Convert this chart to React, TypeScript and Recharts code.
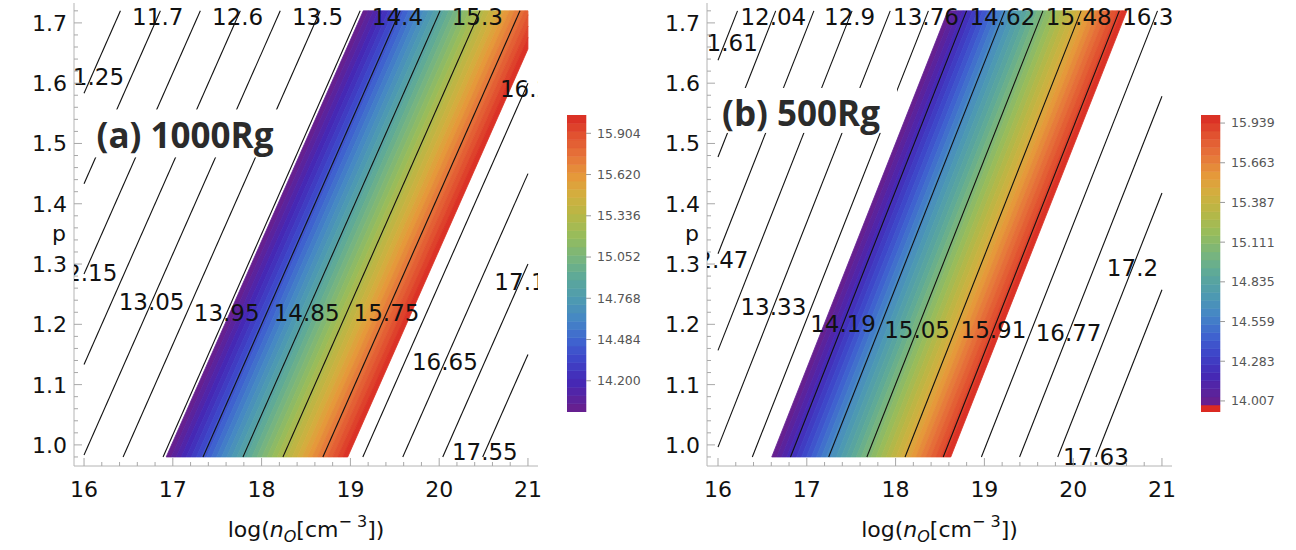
import React from 'react';
import { ComposedChart, Scatter, XAxis, YAxis, BarChart, Bar } from 'recharts';

const FONT = '"DejaVu Sans", sans-serif';
const TITLE_FONT = '"Open Sans", "DejaVu Sans", sans-serif';
const FRAME = '#b4b4b4';
const TICK = '#a8a8a8';

// ---- data extent of both contour plots ----
const xRange = [16, 21];
const pRange = [0.98, 1.72];

// ---- axis ticks ----
const xTicksMajor = [16, 17, 18, 19, 20, 21];
const yTicksMajor = [1.0, 1.1, 1.2, 1.3, 1.4, 1.5, 1.6, 1.7];

// ---- panel (a) 1000Rg ----
const slopeA = 3.0;
const levelsA = [11.25, 11.7, 12.15, 12.6, 13.05, 13.5, 13.95, 14.4, 14.85, 15.3, 15.75, 16.2, 16.65, 17.1, 17.55];
const labelLevelsA = [11.25, 11.7, 12.6, 13.5, 14.4, 15.3, 16.2, 12.15, 13.05, 13.95, 14.85, 15.75, 16.65, 17.1, 17.55];
const labelPA = [1.61, 1.71, 1.71, 1.71, 1.71, 1.71, 1.591, 1.285, 1.237, 1.219, 1.219, 1.219, 1.138, 1.27, 0.988];
const colorTicksA = [14.2, 14.484, 14.768, 15.052, 15.336, 15.62, 15.904];
const colorRangeA = [13.985, 16.03];
const bandCountA = 36;

// ---- panel (b) 500Rg ----
const slopeB = 2.68;
const levelsB = [11.61, 12.04, 12.47, 12.9, 13.33, 13.76, 14.19, 14.62, 15.05, 15.48, 15.91, 16.34, 16.77, 17.2, 17.63];
const labelLevelsB = [11.61, 12.04, 12.9, 13.76, 14.62, 15.48, 16.34, 12.47, 13.33, 14.19, 15.05, 15.91, 16.77, 17.2, 17.63];
const labelPB = [1.667, 1.71, 1.71, 1.71, 1.71, 1.71, 1.71, 1.307, 1.229, 1.201, 1.191, 1.191, 1.186, 1.294, 0.98];
const colorTicksB = [14.007, 14.283, 14.559, 14.835, 15.111, 15.387, 15.663, 15.939];
const colorRangeB = [13.979, 15.995];
const colorUnderB = 13.93;
const bandCountB = 36;

// rainbow palette (position, colour) sampled from the legend
const rainbowPos = [0, 0.1, 0.175, 0.24, 0.31, 0.38, 0.45, 0.52, 0.59, 0.66, 0.73, 0.79, 0.865, 0.94, 1];
const rainbowCol = ['#6B1F8A', '#4528B5', '#3E44C8', '#3F64CF', '#4586C6', '#4E9AB0', '#5CA89A', '#78B57D', '#96BC5C', '#B5B847', '#D2AF3E', '#E59A3A', '#E6733A', '#E04D2E', '#DA2A24'];

const hex2rgb = (h: string) => [parseInt(h.slice(1, 3), 16), parseInt(h.slice(3, 5), 16), parseInt(h.slice(5, 7), 16)];
function rainbow(t: number): string {
  const tt = Math.max(0, Math.min(1, t));
  let i = 0;
  while (i < rainbowPos.length - 2 && tt > rainbowPos[i + 1]) i++;
  const f = (tt - rainbowPos[i]) / (rainbowPos[i + 1] - rainbowPos[i]);
  const a = hex2rgb(rainbowCol[i]);
  const b = hex2rgb(rainbowCol[i + 1]);
  const c = a.map((v, j) => Math.round(v + (b[j] - v) * f));
  return `rgb(${c[0]},${c[1]},${c[2]})`;
}

type Pt = { x: number; y: number };

function clipX(poly: Pt[], x0: number, x1: number): Pt[] {
  const edge = (pts: Pt[], inside: (p: Pt) => boolean, xv: number) => {
    const out: Pt[] = [];
    for (let i = 0; i < pts.length; i++) {
      const cur = pts[i];
      const prev = pts[(i + pts.length - 1) % pts.length];
      const inter = () => ({ x: xv, y: prev.y + ((cur.y - prev.y) * (xv - prev.x)) / (cur.x - prev.x) });
      const ci = inside(cur);
      const pi = inside(prev);
      if (ci) {
        if (!pi) out.push(inter());
        out.push(cur);
      } else if (pi) out.push(inter());
    }
    return out;
  };
  let r = edge(poly, (p) => p.x >= x0, x0);
  r = edge(r, (p) => p.x <= x1, x1);
  return r;
}

function makeBands(range: number[], count: number, k: number) {
  const step = (range[1] - range[0]) / count;
  const bands: { pts: Pt[]; color: string; lo: number; hi: number }[] = [];
  for (let i = 0; i < count; i++) {
    const a = range[0] + i * step;
    const b = a + step;
    const poly: Pt[] = [
      { x: a + k * pRange[0], y: pRange[0] },
      { x: b + k * pRange[0], y: pRange[0] },
      { x: b + k * pRange[1], y: pRange[1] },
      { x: a + k * pRange[1], y: pRange[1] },
    ];
    bands.push({ pts: clipX(poly, xRange[0], xRange[1]), color: rainbow((i + 0.5) / count), lo: a, hi: b });
  }
  return bands;
}

function makeLines(levels: number[], k: number) {
  return levels
    .map((L) => {
      const p0 = Math.max(pRange[0], (xRange[0] - L) / k);
      const p1 = Math.min(pRange[1], (xRange[1] - L) / k);
      if (p1 <= p0) return null;
      return [
        { x: L + k * p0, y: p0 },
        { x: L + k * p1, y: p1 },
      ];
    })
    .filter((d) => d !== null) as Pt[][];
}

function makeLabels(levels: number[], ps: number[], k: number) {
  return levels.map((L, i) => ({ x: L + k * ps[i], y: ps[i], text: String(L) }));
}

const range = (a: number, b: number, s: number) => {
  const out: number[] = [];
  for (let v = a; v <= b + 1e-9; v += s) out.push(Math.round(v * 1000) / 1000);
  return out;
};
const xTicksAll = range(16, 21, 0.2);
const yTicksAll = range(0.98, 1.72, 0.02);
const isMajor = (v: number, majors: number[]) => majors.some((m) => Math.abs(m - v) < 1e-6);

const emptyShape = () => <g />;

const polyLine = (color: string) => (lp: any) => {
  const pts: Pt[] = lp.points || [];
  if (!pts.length) return <g />;
  const d = 'M' + pts.map((p) => `${p.x},${p.y}`).join('L') + 'Z';
  return <path d={d} fill={color} stroke={color} strokeWidth={0.8} />;
};

const segLine = (lp: any) => {
  const pts: Pt[] = lp.points || [];
  if (!pts.length) return <g />;
  const d = 'M' + pts.map((p) => `${p.x},${p.y}`).join('L');
  return <path d={d} fill="none" stroke="#111" strokeWidth={1.1} />;
};

const labelShape = (props: any) => (
  <text x={props.cx} y={props.cy + 8} textAnchor="middle" fontFamily={FONT} fontSize={23} fill="#111">
    {props.payload.text}
  </text>
);

const bottomTick = (props: any) => {
  const { x, y, payload } = props;
  const major = isMajor(payload.value, xTicksMajor);
  return (
    <g>
      <line x1={x} x2={x} y1={y} y2={y - (major ? 8 : 4)} stroke={TICK} />
      {major && (
        <text x={x} y={y + 31} textAnchor="middle" fontFamily={FONT} fontSize={22} fill="#111">
          {payload.value}
        </text>
      )}
    </g>
  );
};
const topTick = (props: any) => {
  const { x, y, payload } = props;
  const major = isMajor(payload.value, xTicksMajor);
  return <line x1={x} x2={x} y1={y} y2={y + (major ? 8 : 4)} stroke={TICK} />;
};
const leftTick = (props: any) => {
  const { x, y, payload } = props;
  const major = isMajor(payload.value, yTicksMajor);
  return (
    <g>
      <line x1={x} x2={x + (major ? 8 : 4)} y1={y} y2={y} stroke={TICK} />
      {major && (
        <text x={x - 7} y={y + 8} textAnchor="end" fontFamily={FONT} fontSize={22} fill="#111">
          {Number(payload.value).toFixed(1)}
        </text>
      )}
    </g>
  );
};
const rightTick = (props: any) => {
  const { x, y, payload } = props;
  const major = isMajor(payload.value, yTicksMajor);
  return <line x1={x} x2={x - (major ? 8 : 4)} y1={y} y2={y} stroke={TICK} />;
};

const xLabel = (lp: any) => {
  const vb = lp.viewBox || { x: 0, y: 0, width: 0 };
  return (
    <text x={vb.x + vb.width / 2} y={vb.y + 71} textAnchor="middle" fontFamily={FONT} fontSize={22} fill="#111">
      log(<tspan fontStyle="italic">n</tspan>
      <tspan fontStyle="italic" fontSize={16} dy={5}>O</tspan>
      <tspan dy={-5}>[cm</tspan>
      <tspan fontSize={16} dy={-10}>{'\u2212 3'}</tspan>
      <tspan dy={10}>])</tspan>
    </text>
  );
};
const yLabel = (lp: any) => {
  const vb = lp.viewBox || { x: 0, y: 0, height: 0 };
  return (
    <text x={vb.x + 45} y={vb.y + vb.height / 2 + 6} textAnchor="middle" fontFamily={FONT} fontSize={22} fill="#111">
      p
    </text>
  );
};

type PanelProps = {
  left: number;
  domainX: number[];
  marginRight: number;
  slope: number;
  levels: number[];
  labelLevels: number[];
  labelP: number[];
  colorRange: number[];
  bandCount: number;
  title: string;
  titlePos: { x: number; y: number };
  box: number[]; // dx0, dx1, dy0, dy1 in px around the title anchor
};

function Panel(pp: PanelProps) {
  const bands = makeBands(pp.colorRange, pp.bandCount, pp.slope);
  const lines = makeLines(pp.levels, pp.slope);
  const labels = makeLabels(pp.labelLevels, pp.labelP, pp.slope);
  const titleShape = (props: any) => {
    const [dx0, dx1, dy0, dy1] = pp.box;
    return (
      <g>
        <rect x={props.cx + dx0} y={props.cy + dy0} width={dx1 - dx0} height={dy1 - dy0} fill="#fff" />
        <text x={props.cx} y={props.cy + 12} textAnchor="middle" fontFamily={TITLE_FONT} fontWeight={700} fontSize={35} fill="#2b2b2b">
          {pp.title}
        </text>
      </g>
    );
  };
  const domainY = [0.965, 1.733];
  return (
    <div style={{ position: 'absolute', left: pp.left, top: 0 }}>
      <ComposedChart width={560} height={550} margin={{ top: 3, right: pp.marginRight, bottom: 14, left: 14 }}>
        <XAxis
          xAxisId={0}
          dataKey="x"
          type="number"
          domain={pp.domainX}
          allowDataOverflow
          ticks={xTicksAll}
          interval={0}
          tickSize={0}
          tickMargin={0}
          tickLine={false}
          axisLine={{ stroke: FRAME }}
          height={70}
          tick={bottomTick}
          label={{ content: xLabel }}
        />
        <XAxis
          xAxisId="top"
          orientation="top"
          dataKey="x"
          type="number"
          domain={pp.domainX}
          allowDataOverflow
          ticks={xTicksAll}
          interval={0}
          tickSize={0}
          tickMargin={0}
          tickLine={false}
          axisLine={{ stroke: FRAME }}
          height={0}
          tick={topTick}
        />
        <YAxis
          yAxisId={0}
          dataKey="y"
          type="number"
          domain={domainY}
          allowDataOverflow
          ticks={yTicksAll}
          interval={0}
          tickSize={0}
          tickMargin={0}
          tickLine={false}
          axisLine={{ stroke: FRAME }}
          width={60}
          tick={leftTick}
          label={{ content: yLabel }}
        />
        <YAxis
          yAxisId="right"
          orientation="right"
          dataKey="y"
          type="number"
          domain={domainY}
          allowDataOverflow
          ticks={yTicksAll}
          interval={0}
          tickSize={0}
          tickMargin={0}
          tickLine={false}
          axisLine={{ stroke: FRAME }}
          width={0}
          tick={rightTick}
        />
        {bands.map((b, i) => (
          <Scatter key={'band' + i} data={b.pts} isAnimationActive={false} shape={emptyShape} line={polyLine(b.color)} lineType="joint" />
        ))}
        {lines.map((l, i) => (
          <Scatter key={'line' + i} data={l} isAnimationActive={false} shape={emptyShape} line={segLine} lineType="joint" />
        ))}
        <Scatter data={labels} isAnimationActive={false} shape={labelShape} />
        <Scatter data={[pp.titlePos]} isAnimationActive={false} shape={titleShape} />
      </ComposedChart>
    </div>
  );
}

type BarProps = { left: number; colorRange: number[]; bandCount: number; ticks: number[]; under?: number };

function ColorBar(cb: BarProps) {
  const step = (cb.colorRange[1] - cb.colorRange[0]) / cb.bandCount;
  const bottom = cb.under !== undefined ? cb.under : cb.colorRange[0];
  const row: Record<string, number | string> = { name: 'c', base: bottom };
  const keys: { key: string; color: string }[] = [];
  if (cb.under !== undefined) {
    row.base = cb.under;
    row.under = cb.colorRange[0] - cb.under;
    keys.push({ key: 'under', color: '#DC2A22' });
  }
  for (let i = 0; i < cb.bandCount; i++) {
    row['b' + i] = step;
    keys.push({ key: 'b' + i, color: rainbow((i + 0.5) / cb.bandCount) });
  }
  return (
    <div style={{ position: 'absolute', left: cb.left, top: 0 }}>
      <BarChart width={79} height={550} data={[row]} margin={{ top: 115, right: 0, bottom: 138, left: 0 }} barCategoryGap={0} barGap={0}>
        <XAxis dataKey="name" hide />
        <YAxis
          orientation="right"
          type="number"
          domain={[bottom, cb.colorRange[1]]}
          allowDataOverflow
          ticks={cb.ticks}
          interval={0}
          width={60}
          axisLine={false}
          tickLine={{ stroke: '#999' }}
          tickSize={5}
          tickMargin={6}
          tick={{ fontSize: 12.5, fill: '#555', fontFamily: FONT }}
          tickFormatter={(v: number) => v.toFixed(3)}
        />
        <Bar dataKey="base" stackId="s" fill="none" isAnimationActive={false} />
        {keys.map((k) => (
          <Bar key={k.key} dataKey={k.key} stackId="s" fill={k.color} stroke={k.color} strokeWidth={0.6} isAnimationActive={false} />
        ))}
      </BarChart>
    </div>
  );
}

export default function App() {
  return (
    <div style={{ position: 'absolute', left: 0, top: 0, width: 1296, height: 550, background: '#fff', overflow: 'hidden' }}>
      <Panel
        left={0}
        domainX={[15.887, 21.113]}
        marginRight={22}
        slope={slopeA}
        levels={levelsA}
        labelLevels={labelLevelsA}
        labelP={labelPA}
        colorRange={colorRangeA}
        bandCount={bandCountA}
        title="(a) 1000Rg"
        titlePos={{ x: 17.137, y: 1.5117 }}
        box={[-95, 95, -27, 21]}
      />
      <ColorBar left={567} colorRange={colorRangeA} bandCount={bandCountA} ticks={colorTicksA} />
      <Panel
        left={633}
        domainX={[15.876, 21.113]}
        marginRight={21}
        slope={slopeB}
        levels={levelsB}
        labelLevels={labelLevelsB}
        labelP={labelPB}
        colorRange={colorRangeB}
        bandCount={bandCountB}
        title="(b) 500Rg"
        titlePos={{ x: 16.935, y: 1.549 }}
        box={[-83, 96, -26, 19]}
      />
      <ColorBar left={1201} colorRange={colorRangeB} bandCount={bandCountB} ticks={colorTicksB} under={colorUnderB} />
    </div>
  );
}
